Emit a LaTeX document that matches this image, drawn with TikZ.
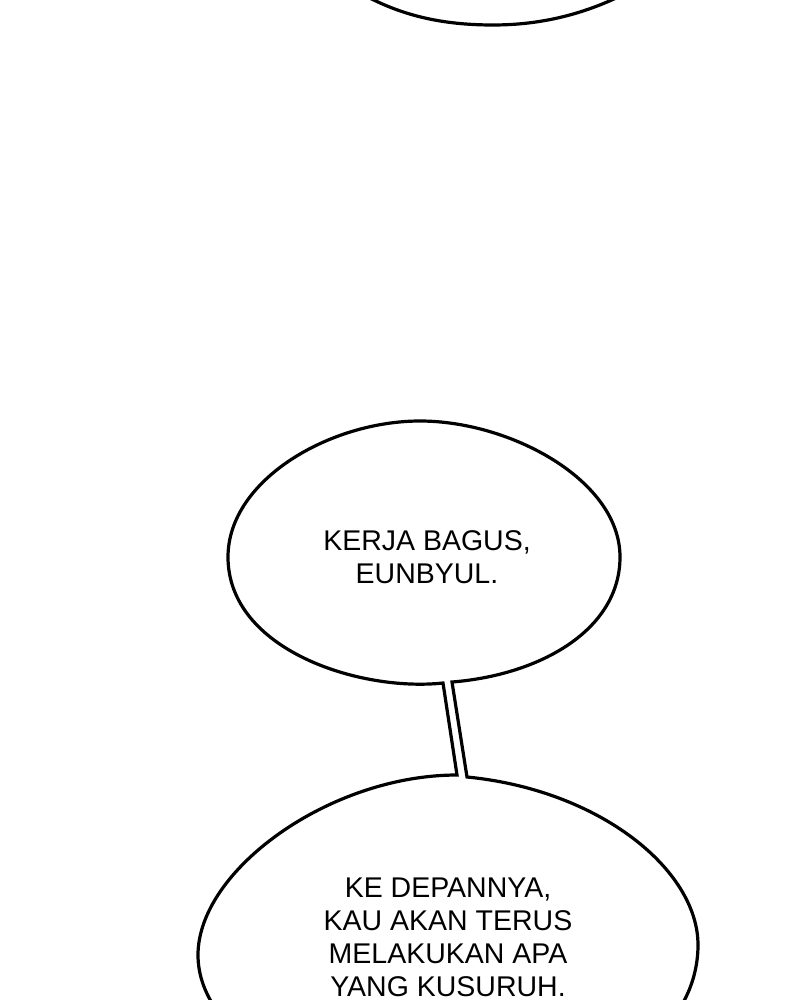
\documentclass[tikz,border=0pt]{standalone}
\usepackage{fontspec}
\setmainfont{Liberation Sans}
\usepackage{tikz}
\usetikzlibrary{positioning}
\tikzstyle{bubble}=[draw,line width=3.2pt]
\tikzstyle{speech}=[align=center,inner sep=0pt,font=\fontsize{28.5}{33}\selectfont]

\begin{document}
\begin{tikzpicture}[x=1pt,y=-1pt]
 \useasboundingbox (0,0) rectangle (800,1000);
 \clip (0,0) rectangle (800,1000);

 % where the tail meets the bubbles
 \coordinate (tl) at (443,683);
 \coordinate (tr) at (452,682);
 \coordinate (bl) at (457,775);
 \coordinate (br) at (467,777);

 % bubble above, cut off by the panel
 \draw[bubble] (340,-20) .. controls (390,15) and (440,25) .. (493,25)
   .. controls (550,25) and (600,10) .. (650,-20);

 % lower bubble, tail and middle bubble in one go
 \draw[bubble] (220,1015) .. controls (205,995) and (198,975) .. (198,955)
   .. controls (198,870) and (330,775) .. (bl) -- (tl)
   .. controls (360,692) and (228,650) .. (228,557)
   .. controls (228,480) and (330,421) .. (420,421)
   .. controls (510,421) and (620,480) .. (620,557)
   .. controls (620,630) and (540,675) .. (tr) -- (br)
   .. controls (600,790) and (698,870) .. (698,945)
   .. controls (698,970) and (690,995) .. (675,1015);

 \node[speech] (kerja) at (427,557) {KERJA BAGUS,\\EUNBYUL.};
 \node[speech] (depan) at (448,937) {KE DEPANNYA,\\KAU AKAN TERUS\\MELAKUKAN APA\\YANG KUSURUH.};

\end{tikzpicture}
\end{document}
